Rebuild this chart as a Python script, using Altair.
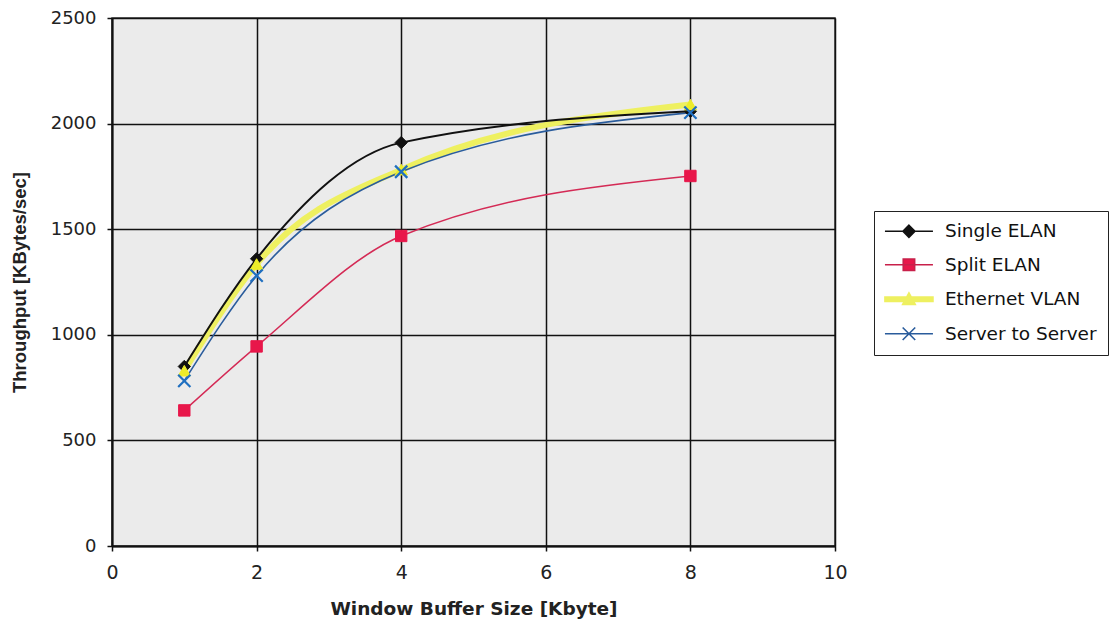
import altair as alt
import pandas as pd

# ---- data ----
window_kbyte = [1, 2, 4, 8]
series_names = ["Single ELAN", "Split ELAN", "Ethernet VLAN", "Server to Server"]
single_elan = [850, 1360, 1910, 2058]
split_elan = [642, 945, 1468, 1752]
ethernet_vlan = [830, 1335, 1782, 2090]
server_to_server = [782, 1280, 1772, 2052]
x_ticks = [0, 2, 4, 6, 8, 10]
y_ticks = [0, 500, 1000, 1500, 2000, 2500]

rows = []
for name, vals in zip(series_names, [single_elan, split_elan, ethernet_vlan, server_to_server]):
    for xv, yv in zip(window_kbyte, vals):
        rows.append({"x": xv, "y": yv, "series": name})
df = pd.DataFrame(rows)

# ---- styles ----
line_color = {"Single ELAN": "#111111", "Split ELAN": "#d42a55",
              "Ethernet VLAN": "#eef060", "Server to Server": "#2a5c9c"}
line_width = {"Single ELAN": 2.0, "Split ELAN": 1.6,
              "Ethernet VLAN": 6.0, "Server to Server": 1.6}
marker_fill = {"Single ELAN": "#111111", "Split ELAN": "#e8174a",
               "Ethernet VLAN": "#ecec2a", "Server to Server": "#1f6fc0"}
marker_shape = {"Single ELAN": "M0,-1L1,0L0,1L-1,0Z", "Split ELAN": "square",
                "Ethernet VLAN": "triangle-up", "Server to Server": "M-1,-1L1,1M-1,1L1,-1"}
marker_size = {"Single ELAN": 150, "Split ELAN": 130, "Ethernet VLAN": 150, "Server to Server": 150}

legend_paths = [
    "M-4,0L4,0M0,-1L1,0L0,1L-1,0Z",
    "M-4,0L4,0M-0.95,-0.95L0.95,-0.95L0.95,0.95L-0.95,0.95Z",
    "M-4,-0.35L4,-0.35L4,0.35L-4,0.35ZM0,-1.05L1.05,0.85L-1.05,0.85Z",
    "M-4,0L4,0M-1.05,-1.05L1.05,1.05M-1.05,1.05L1.05,-1.05",
]
legend_stroke = ["#111111", "#c8204a", "#eef060", "#2a5c9c"]
legend_fill = ["#111111", "#e8174a", "#eef060", "#1f6fc0"]

x_enc = alt.X("x:Q", scale=alt.Scale(domain=[0, 10], nice=False),
              axis=alt.Axis(values=x_ticks, title="Window Buffer Size [Kbyte]",
                            labelPadding=12, labelFlush=False, format="d",
                            titleFont="DejaVu Sans", titleFontSize=18.5,
                            titleFontWeight="bold", titleY=62, titleBaseline="middle"))
y_enc = alt.Y("y:Q", scale=alt.Scale(domain=[0, 2500], nice=False),
              axis=alt.Axis(values=y_ticks, title="Throughput [KBytes/sec]",
                            labelPadding=11, labelFlush=False, format="d", labelFontSize=18,
                            titleFont="Liberation Sans", titleFontSize=18.5,
                            titleFontWeight="bold", titleX=-93, titleBaseline="middle"))

base = alt.Chart(df)

line_order = ["Ethernet VLAN", "Split ELAN", "Server to Server", "Single ELAN"]
lines = [
    base.transform_filter(alt.datum.series == s).mark_line(
        interpolate="monotone", stroke=line_color[s], strokeWidth=line_width[s]
    ).encode(x=x_enc, y=y_enc)
    for s in line_order
]

point_order = ["Single ELAN", "Split ELAN", "Ethernet VLAN", "Server to Server"]
points = []
for s in point_order:
    if s == "Server to Server":
        m = base.transform_filter(alt.datum.series == s).mark_point(
            shape=marker_shape[s], size=marker_size[s], filled=False,
            stroke=marker_fill[s], strokeWidth=2.2, opacity=1)
    else:
        m = base.transform_filter(alt.datum.series == s).mark_point(
            shape=marker_shape[s], size=marker_size[s], filled=True,
            fill=marker_fill[s], stroke=marker_fill[s], strokeWidth=1, opacity=1)
    points.append(m.encode(x=x_enc, y=y_enc))

leg = alt.Legend(title=None, orient="none", legendX=762, legendY=193,
                 symbolSize=144, symbolOffset=14.7, labelOffset=26.7, padding=11,
                 rowPadding=14.5, strokeColor="#222222", fillColor="white",
                 labelFont="DejaVu Sans", labelFontSize=18.5, labelColor="#111111",
                 symbolOpacity=1, symbolStrokeWidth=1.6, labelLimit=300)

legend_layer = base.mark_point(filled=True, strokeWidth=1.6).encode(
    x=x_enc, y=y_enc,
    shape=alt.Shape("series:N", scale=alt.Scale(domain=series_names, range=legend_paths), legend=leg),
    fill=alt.Fill("series:N", scale=alt.Scale(domain=series_names, range=legend_fill), legend=leg),
    stroke=alt.Stroke("series:N", scale=alt.Scale(domain=series_names, range=legend_stroke), legend=leg),
    opacity=alt.value(0),
)

chart = alt.layer(*lines, *points, legend_layer).properties(
    width=723, height=528,
    autosize=alt.AutoSizeParams(type="none"),
    padding={"left": 104, "top": 10, "right": 274, "bottom": 78},
    background="white",
).configure_view(
    fill="#ebebeb", stroke="#333333", strokeWidth=1.5
).configure_axis(
    domainColor="#111111", domainWidth=2, tickColor="#111111", tickSize=5, tickWidth=1.5,
    grid=True, gridColor="#111111", gridWidth=1.5, gridOpacity=1,
    labelFont="DejaVu Sans", labelFontSize=19, labelColor="#222222",
    titleColor="#222222",
)

chart.save("out.html", embed_options={"renderer": "svg", "actions": False})
